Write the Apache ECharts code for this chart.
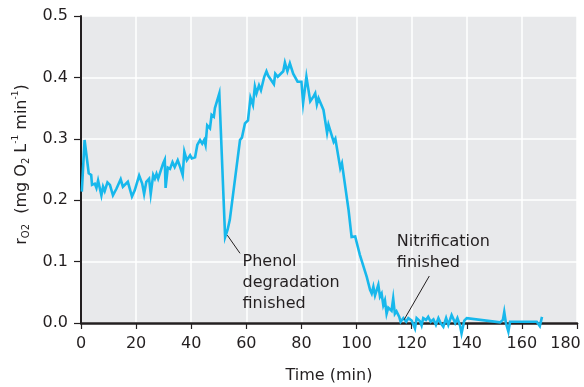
<!DOCTYPE html>
<html>
<head>
<meta charset="utf-8">
<script src="https://cdn.jsdelivr.net/npm/echarts@6/dist/echarts.min.js"></script>
<style>
  html, body { margin: 0; padding: 0; background: #ffffff; }
  #chart { width: 584px; height: 387px; }
</style>
</head>
<body>
<div id="chart"></div>
<script>
// Oxygen uptake rate over the course of the batch
const timeMin = [
  0.3, 1.3, 1.9, 2.8, 3.7, 4.0, 5.0, 5.6, 6.2, 7.4, 8.0, 8.6, 9.6, 10.5, 11.6, 12.9, 13.5, 14.4, 15.2, 17.0,
  18.5, 19.5, 21.1, 22.2, 22.9, 23.7, 24.7, 25.3, 26.2, 26.8, 27.4, 28.0, 29.0, 29.8, 30.4, 30.7, 31.5, 32.3, 33.2, 34.0,
  35.1, 36.0, 36.9, 37.5, 38.4, 39.6, 40.2, 41.4, 42.2, 43.2, 44.0, 44.7, 45.2, 45.8, 46.8, 47.4, 48.2, 48.6, 50.2, 52.3,
  53.2, 54.0, 57.7, 58.4, 59.5, 60.6, 61.5, 62.4, 63.1, 63.7, 64.6, 65.3, 66.5, 67.3, 67.9, 68.5, 70.0, 70.5, 71.4, 73.4,
  74.0, 74.9, 75.8, 77.0, 78.6, 80.0, 80.6, 81.8, 83.2, 84.4, 85.0, 85.6, 86.2, 88.0, 89.3, 89.8, 91.7, 92.3, 94.1, 94.7,
  97.1, 98.2, 99.5, 101.2, 103.7, 104.9, 105.5, 106.1, 106.7, 107.9, 108.5, 109.1, 109.7, 110.3, 110.9, 111.5, 112.7, 113.3, 113.9, 114.5,
  115.5, 116.0, 117.0, 118.0, 118.8, 120.0, 121.2, 121.8, 123.0, 123.6, 124.2, 125.2, 126.0, 126.9, 127.9, 128.8, 129.7, 130.5, 131.5, 132.5,
  133.3, 134.5, 135.8, 136.6, 137.6, 138.1, 139.1, 140.0, 140.6, 152.1, 153.1, 153.6, 154.2, 155.1, 155.7, 156.3, 165.4, 166.5, 167.3
];
const rateO2 = [
  0.214, 0.298, 0.295, 0.244, 0.241, 0.225, 0.227, 0.220, 0.232, 0.208, 0.222, 0.215, 0.229, 0.225, 0.208, 0.219, 0.222, 0.234, 0.222, 0.230,
  0.206, 0.216, 0.240, 0.227, 0.210, 0.230, 0.235, 0.210, 0.241, 0.235, 0.243, 0.235, 0.249, 0.260, 0.266, 0.220, 0.253, 0.251, 0.262, 0.254,
  0.265, 0.254, 0.241, 0.279, 0.265, 0.273, 0.268, 0.270, 0.290, 0.298, 0.292, 0.298, 0.290, 0.322, 0.317, 0.339, 0.336, 0.350, 0.374, 0.140,
  0.152, 0.168, 0.298, 0.302, 0.325, 0.330, 0.367, 0.355, 0.385, 0.374, 0.387, 0.379, 0.401, 0.410, 0.403, 0.406, 0.389, 0.406, 0.401, 0.410,
  0.424, 0.410, 0.423, 0.406, 0.393, 0.393, 0.358, 0.401, 0.361, 0.369, 0.374, 0.356, 0.366, 0.347, 0.310, 0.323, 0.295, 0.300, 0.252, 0.260,
  0.184, 0.140, 0.141, 0.111, 0.075, 0.054, 0.048, 0.059, 0.045, 0.062, 0.043, 0.048, 0.029, 0.037, 0.015, 0.025, 0.020, 0.040, 0.015, 0.019,
  0.010, 0.002, 0.008, 0.002, 0.008, 0.004, -0.009, 0.008, 0.003, -0.004, 0.008, 0.005, 0.010, 0.002, 0.006, -0.003, 0.008, 0.000, -0.006, 0.008,
  -0.003, 0.013, 0.000, 0.008, -0.005, -0.017, 0.004, 0.008, 0.010, 0.001, 0.005, 0.018, 0.000, -0.014, 0.002, 0.004, 0.002, -0.005, 0.010
];

// Axis ticks
const xTicks = [0, 20, 40, 60, 80, 100, 120, 140, 160, 180];
const yTicks = [0.0, 0.1, 0.2, 0.3, 0.4, 0.5];

// Event notes: text, leader line start/end (data units), text anchor (data units)
const noteTexts = ['Phenol\ndegradation\nfinished', 'Nitrification\nfinished'];
const noteLineFrom = [[53.1, 0.143], [117.2, 0.005]];
const noteLineTo = [[57.7, 0.1135], [126.4, 0.0765]];
const noteAnchor = [[58.8, 0.116], [114.8, 0.149]];

const FONT = 'DejaVu Sans';
const INK = '#231f20';
const xMax = xTicks[xTicks.length - 1];

const chart = echarts.init(document.getElementById('chart'), null, { renderer: 'canvas' });

chart.setOption({
  animation: false,
  backgroundColor: '#ffffff',
  textStyle: { fontFamily: FONT, color: INK },
  grid: {
    left: 81, right: 7, top: 16, bottom: 64,
    outerBoundsMode: 'none',
    containLabel: false,
    show: true, backgroundColor: '#e8e9eb', borderWidth: 0
  },
  xAxis: {
    type: 'value',
    min: xTicks[0], max: xMax,
    interval: xTicks[1] - xTicks[0],
    name: 'Time (min)',
    nameLocation: 'middle',
    nameGap: 45,
    nameTextStyle: { fontFamily: FONT, fontSize: 16, color: INK },
    axisLine: { lineStyle: { color: INK, width: 2.5 } },
    axisTick: { show: true, length: 6, lineStyle: { color: INK, width: 1.2 } },
    axisLabel: {
      fontFamily: FONT, fontSize: 16, color: INK, margin: 13,
      // last label is pulled inward so it stays on the canvas
      formatter: v => (v === xMax ? '{end|' + v + '}' : String(v)),
      rich: {
        end: { fontFamily: FONT, fontSize: 16, color: INK, padding: [0, 23, 0, 0] }
      }
    },
    splitLine: { show: true, lineStyle: { color: '#ffffff', width: 1.5 } }
  },
  yAxis: {
    type: 'value',
    min: yTicks[0], max: yTicks[yTicks.length - 1],
    interval: yTicks[1] - yTicks[0],
    name: '{t|r}{s|O2}{t|  (mg O}{s|2}{t| L}{p|-1}{t| min}{p|-1}{t|)}',
    nameLocation: 'middle',
    nameRotate: 90,
    nameGap: 47,
    nameTextStyle: {
      padding: [0, 0, 0, 10],
      rich: {
        t: { fontFamily: FONT, fontSize: 16, color: INK, lineHeight: 20, verticalAlign: 'middle' },
        s: { fontFamily: FONT, fontSize: 10, color: INK, lineHeight: 10, verticalAlign: 'bottom' },
        p: { fontFamily: FONT, fontSize: 9, color: INK, lineHeight: 9, verticalAlign: 'top' }
      }
    },
    axisLine: { show: true, lineStyle: { color: INK, width: 2 } },
    axisTick: { show: true, length: 7, lineStyle: { color: INK, width: 1.2 } },
    axisLabel: {
      fontFamily: FONT, fontSize: 16, color: INK, margin: 13,
      formatter: v => v.toFixed(1)
    },
    splitLine: { show: true, lineStyle: { color: '#ffffff', width: 1.5 } }
  },
  series: [{
    type: 'line',
    data: timeMin.map((t, i) => [t, rateO2[i]]),
    showSymbol: false,
    clip: false,
    lineStyle: { color: '#17b8ec', width: 2.6, join: 'miter' },
    z: 3,
    markLine: {
      silent: true,
      symbol: ['none', 'none'],
      label: { show: false },
      lineStyle: { color: INK, width: 1, type: 'solid' },
      data: noteLineFrom.map((p, i) => [{ coord: p }, { coord: noteLineTo[i] }])
    },
    markPoint: {
      silent: true,
      symbol: 'rect',
      symbolSize: 1,
      itemStyle: { color: 'rgba(0,0,0,0)' },
      label: {
        show: true,
        position: [0, 0],
        align: 'left',
        verticalAlign: 'top',
        fontFamily: FONT,
        fontSize: 16,
        lineHeight: 21,
        color: INK,
        formatter: p => p.name
      },
      data: noteAnchor.map((p, i) => ({ coord: p, name: noteTexts[i] }))
    }
  }]
});
</script>
</body>
</html>
